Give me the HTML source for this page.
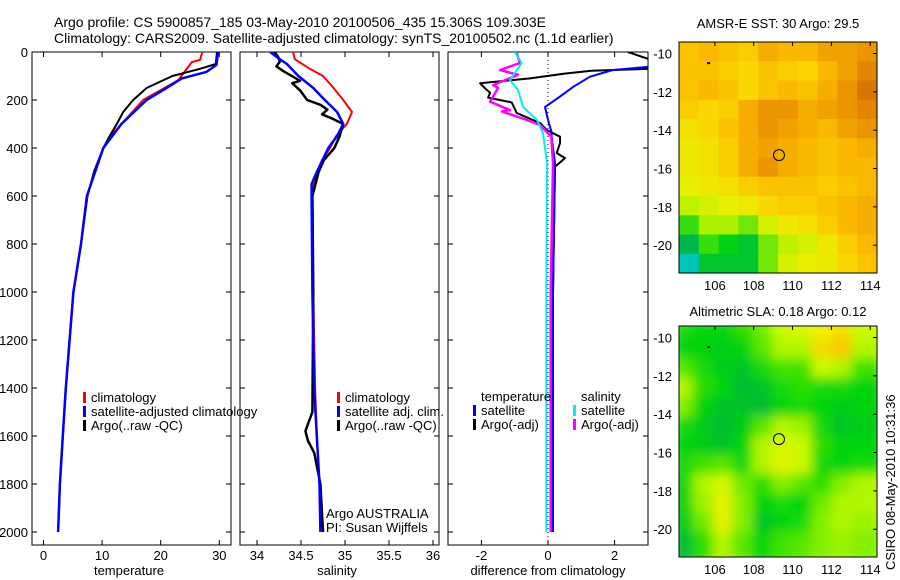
<!DOCTYPE html>
<html><head><meta charset="utf-8">
<style>
html,body{margin:0;padding:0;background:#fff;}
svg{display:block;font-family:"Liberation Sans",sans-serif;}
text{font-size:13px;fill:#000;}
</style></head>
<body>
<svg id="fig" width="900" height="580" viewBox="0 0 900 580" xmlns="http://www.w3.org/2000/svg">
<defs>
<clipPath id="c1"><rect x="32" y="52" width="199" height="493"/></clipPath>
<clipPath id="c2"><rect x="240" y="52" width="199" height="493"/></clipPath>
<clipPath id="c3"><rect x="448" y="52" width="200" height="493"/></clipPath>
<clipPath id="cm1"><rect x="679" y="42" width="198" height="231"/></clipPath>
<clipPath id="cm2"><rect x="679" y="326" width="198" height="231"/></clipPath>
<filter id="blur" x="0" y="0" width="1" height="1"><feGaussianBlur stdDeviation="5.5"/></filter>
</defs>
<text x="54" y="27" style="font-size:14px">Argo profile: CS 5900857_185 03-May-2010 20100506_435 15.306S 109.303E</text>
<text x="54" y="43" style="font-size:14px">Climatology: CARS2009. Satellite-adjusted climatology: synTS_20100502.nc (1.1d earlier)</text>
<g id="g"></g>
<text x="778" y="28" text-anchor="middle">AMSR-E SST: 30 Argo: 29.5</text>
<text x="778" y="316" text-anchor="middle">Altimetric SLA: 0.18 Argo: 0.12</text>
<text transform="translate(895,570) rotate(-90)">CSIRO 08-May-2010 10:31:36</text>
<text x="129" y="575" text-anchor="middle">temperature</text>
<text x="337" y="575" text-anchor="middle">salinity</text>
<text x="548" y="575" text-anchor="middle">difference from climatology</text>
<text x="326" y="518">Argo AUSTRALIA</text>
<text x="326" y="532">PI: Susan Wijffels</text>
</svg>
<script>
// ---------- data ----------
const depthTicks=[0,200,400,600,800,1000,1200,1400,1600,1800,2000];
const tempTicks=[0,10,20,30];
const salTicks=[34,34.5,35,35.5,36];
const diffTicks=[-2,0,2];
const tClimD=[0,33,42,117,200,338,400,600,800,1000,1400,1600,1800,2000];
const tClimV=[27.1,26.7,25.3,23,17,11.9,10.2,7.4,6.4,5.1,3.8,3.3,2.8,2.5];
const tSatD=[0,54,83,110,150,200,300,400,600,800,1000,1400,1600,1800,2000];
const tSatV=[29.8,29.5,27.8,23.6,21,17.6,13.3,10.2,7.4,6.4,5.1,3.8,3.3,2.8,2.5];
const tArgoD=[0,50,70,100,150,200,250,300,350,400,500,600,800,1000,1400,1600,1800,2000];
const tArgoV=[29.6,29.4,26.7,22,17.6,15.3,13.6,12.5,11.3,10.2,8.6,7.5,6.4,5.1,3.8,3.3,2.8,2.5];
const sClimD=[0,30,70,100,150,200,250,300,350,400,450,500,550,600,1000,1400,1600,1800,2000];
const sClimV=[34.41,34.43,34.6,34.75,34.87,34.98,35.08,35.02,34.9,34.83,34.74,34.68,34.64,34.63,34.64,34.66,34.68,34.71,34.72];
const sSatD=[0,20,50,100,150,200,250,300,350,400,500,550,600,1000,1400,1600,1800,2000];
const sSatV=[34.15,34.22,34.34,34.47,34.64,34.77,34.91,34.98,34.91,34.81,34.68,34.62,34.62,34.63,34.65,34.68,34.71,34.72];
const sArgoD=[0,20,40,60,80,120,130,160,200,220,240,260,280,300,350,400,450,500,600,1000,1500,1550,1580,1620,1670,1800,2000];
const sArgoV=[34.2,34.24,34.26,34.22,34.3,34.49,34.4,34.49,34.57,34.72,34.8,34.74,34.87,34.98,34.94,34.88,34.76,34.7,34.63,34.64,34.63,34.58,34.55,34.58,34.65,34.72,34.75];
const dTSatD=[0,61,75,103,145,186,229,283,330,367,463,1000,2000];
const dTSatV=[3.1,3.1,1.95,1.26,0.76,0.36,-0.09,0,0.1,0.12,0.21,0.15,0.15];
const dTArgoD=[0,33,70,78,90,110,130,150,170,190,210,254,296,325,353,380,421,442,478,1000,2000];
const dTArgoV=[2.4,3.1,3.1,1.3,0.5,-0.54,-2.04,-1.9,-1.74,-1.8,-1.09,-0.94,-0.24,-0.04,0.36,0.36,0.26,0.51,0.21,0.15,0.12];
const dSSatD=[0,46,117,158,229,283,338,463,1000,2000];
const dSSatV=[-1.0,-0.79,-1.14,-0.9,-0.75,-0.33,-0.15,-0.03,-0.05,-0.05];
const dSArgoD=[4,46,75,95,138,150,207,242,248,283,304,353,463,1000,2000];
const dSArgoV=[-0.94,-0.84,-1.44,-0.9,-1.65,-1.5,-1.74,-1.14,-1.38,-0.63,-0.24,0.1,0.15,0.08,0.08];
const mapLonTicks=[106,108,110,112,114];
const mapLatTicks=[-10,-12,-14,-16,-18,-20];
const sstGrid=[
[29.8,29.9,29.8,29.7,30.0,29.9,29.9,30.1,30.1,30.2],
[29.8,29.8,29.7,29.6,29.8,29.7,29.6,29.9,30.1,30.3],
[29.8,29.9,29.8,29.6,29.8,29.9,29.8,30.0,30.2,30.4],
[29.7,29.6,29.7,30.0,30.2,30.2,30.0,30.1,30.2,30.3],
[29.5,29.6,29.8,30.0,30.2,30.1,30.0,29.9,30.1,30.2],
[29.4,29.5,29.7,30.0,30.1,30.0,29.9,29.8,29.9,30.0],
[29.4,29.5,29.7,30.0,30.2,30.0,29.9,29.8,29.9,29.9],
[29.3,29.4,29.5,29.7,29.8,29.8,29.8,29.7,29.8,29.9],
[29.1,29.2,29.3,29.4,29.6,29.7,29.7,29.8,29.9,30.0],
[28.8,29.0,29.0,28.9,29.2,29.4,29.5,29.7,29.9,30.0],
[28.5,28.8,28.7,28.6,28.9,29.1,29.2,29.4,29.7,29.9],
[28.2,28.6,28.6,28.6,28.9,29.2,29.3,29.4,29.6,29.8]];
const slaGrid=[
[.35,.3,.3,.4,.55,.75,.8,.9,.95,.75],
[.3,.3,.25,.3,.5,.7,.7,.95,1.0,.7],
[.5,.35,.25,.2,.35,.45,.45,.75,.7,.45],
[.7,.4,.3,.15,.2,.35,.4,.35,.35,.3],
[.6,.3,.2,.2,.15,.3,.35,.3,.25,.3],
[.35,.25,.15,.25,.5,.7,.65,.35,.2,.25],
[.3,.25,.2,.3,.7,.8,.75,.4,.3,.3],
[.35,.45,.5,.35,.7,.85,.75,.35,.3,.35],
[.3,.7,.8,.55,.4,.6,.5,.4,.6,.7],
[.3,.65,.85,.6,.3,.35,.3,.55,.7,.7],
[.25,.55,.85,.6,.2,.3,.35,.6,.7,.65],
[.15,.4,.7,.5,.3,.45,.5,.6,.65,.6]];
const argoLon=109.3, argoLat=-15.3;

// ---------- helpers ----------
const NS='http://www.w3.org/2000/svg';
const G=document.getElementById('g');
function mk(tag,attrs,parent){const e=document.createElementNS(NS,tag);for(const k in attrs)e.setAttribute(k,attrs[k]);(parent||G).appendChild(e);return e;}
const Y=d=>52+d*0.24;
const xT=v=>43.5+v*5.86;
const xS=v=>257+(v-34)*88;
const xD=v=>548+v*33.3;

function panel(x0,x1,xs,ticks,fmt,name){
  const r=mk('rect',{x:x0,y:52,width:x1-x0,height:493,fill:'none',stroke:'#000','stroke-width':1});
  
  
  depthTicks.forEach(d=>{
    mk('line',{x1:x0,x2:x0+5,y1:Y(d),y2:Y(d),stroke:'#000'});
    mk('line',{x1:x1-5,x2:x1,y1:Y(d),y2:Y(d),stroke:'#000'});
  });
  ticks.forEach(v=>{
    const x=xs(v);
    mk('line',{x1:x,x2:x,y1:52,y2:57,stroke:'#000'});
    mk('line',{x1:x,x2:x,y1:540,y2:545,stroke:'#000'});
    const t=mk('text',{x:x,y:560,'text-anchor':'middle'});t.textContent=fmt(v);
    
    
  });
}
function line(ds,vs,xs,color,w,clip,name,dash){
  const p=ds.map((d,i)=>(i?'L':'M')+xs(vs[i]).toFixed(1)+','+Y(d).toFixed(1)).join('');
  const a={d:p,fill:'none',stroke:color,'stroke-width':w,'clip-path':'url(#'+clip+')','stroke-linejoin':'round'};
  if(dash)a['stroke-dasharray']=dash;
  const e=mk('path',a);
  
  
}
function legend(x,y,color,label,name){
  mk('rect',{x:x-1,y:y-6,width:3,height:11,fill:color});
  const t=mk('text',{x:x+7,y:y+4});t.textContent=label;
  
  
}

depthTicks.forEach(d=>{const t=mk('text',{x:28,y:Y(d)+5,'text-anchor':'end'});t.textContent=d;
  
  });

panel(32,231,xT,tempTicks,v=>v,'temperature-panel');
line(tClimD,tClimV,xT,'#f00',2,'c1','temp-climatology-line');
line(tArgoD,tArgoV,xT,'#000',2,'c1','temp-argo-line');
line(tSatD,tSatV,xT,'#00f',2.5,'c1','temp-satellite-line');
legend(84,398,'#f00','climatology','legend-climatology');
legend(84,412,'#00f','satellite-adjusted climatology','legend-satellite-adjusted');
legend(84,426,'#000','Argo(..raw -QC)','legend-argo');

panel(240,439,xS,salTicks,v=>v,'salinity-panel');
line(sClimD,sClimV,xS,'#f00',2,'c2','sal-climatology-line');
line(sArgoD,sArgoV,xS,'#000',2.5,'c2','sal-argo-line');
line(sSatD,sSatV,xS,'#00f',2.5,'c2','sal-satellite-line');
legend(338,398,'#f00','climatology','legend-sal-climatology');
legend(338,412,'#00f','satellite adj. clim.','legend-sal-satellite');
legend(338,426,'#000','Argo(..raw -QC)','legend-sal-argo');

panel(448,648,xD,diffTicks,v=>v,'difference-panel');
mk('line',{x1:xD(0),x2:xD(0),y1:52,y2:545,stroke:'#000','stroke-dasharray':'1,3','clip-path':'url(#c3)'});
line(dTArgoD,dTArgoV,xD,'#000',2,'c3','diff-temp-argo-line');
line(dTSatD,dTSatV,xD,'#00f',2,'c3','diff-temp-satellite-line');
line(dSArgoD,dSArgoV,xD,'#f0f',2.5,'c3','diff-sal-argo-line');
line(dSSatD,dSSatV,xD,'#0ee',2,'c3','diff-sal-satellite-line');
{const t=mk('text',{x:481,y:401});t.textContent='temperature';
 
 }
{const t=mk('text',{x:581,y:401});t.textContent='salinity';
 
 }
legend(474,411,'#00f','satellite','legend-diff-temp-satellite');
legend(474,425,'#000','Argo(-adj)','legend-diff-temp-argo');
legend(574,411,'#0ee','satellite','legend-diff-sal-satellite');
legend(574,425,'#f0f','Argo(-adj)','legend-diff-sal-argo');

function cs(stops,v){
  if(v<=stops[0][0])return 'rgb('+stops[0][1].join(',')+')';
  for(let i=1;i<stops.length;i++){if(v<=stops[i][0]){const a=stops[i-1],b=stops[i],f=(v-a[0])/(b[0]-a[0]);
    return 'rgb('+a[1].map((c,k)=>Math.round(c+(b[1][k]-c)*f)).join(',')+')';}}
  return 'rgb('+stops[stops.length-1][1].join(',')+')';
}
const sstStops=[[28.1,[0,210,220]],[28.4,[0,170,100]],[28.7,[0,210,20]],[29.0,[170,240,0]],[29.3,[230,240,0]],[29.6,[250,215,0]],[29.9,[250,185,0]],[30.2,[235,150,0]],[30.5,[210,100,0]]];
const slaStops=[[0,[0,165,95]],[0.3,[0,212,10]],[0.55,[110,235,0]],[0.75,[200,250,0]],[0.9,[240,240,0]],[1.0,[250,200,0]]];
function map(top,grid,stops,clip,name,blur){
  const x0=679,w=198,h=231,lon0=104.15,lon1=114.35,lat0=-9.4,lat1=-21.45;
  const lx=v=>x0+(v-lon0)/(lon1-lon0)*w, ly=v=>top+(v-lat0)/(lat1-lat0)*h;
  const g=mk('g',{'clip-path':'url(#'+clip+')'});
  const gi=mk('g',blur?{filter:'url(#blur)'}:{},g);
  const nr=grid.length,nc=grid[0].length;
  grid.forEach((row,i)=>row.forEach((v,j)=>{
    const c=mk('rect',{x:x0+j*w/nc-(blur?6:0),y:top+i*h/nr-(blur?6:0),width:w/nc+0.6+(blur?12:0),height:h/nr+0.6+(blur?12:0),fill:cs(stops,v)},gi);
    
    
  }));
  const f=mk('rect',{x:x0,y:top,width:w,height:h,fill:'none',stroke:'#000'});
  
  
  mapLonTicks.forEach(v=>{const x=lx(v);mk('line',{x1:x,x2:x,y1:top,y2:top+4,stroke:'#000'});
    const t=mk('text',{x:x,y:top+h+17,'text-anchor':'middle'});t.textContent=v;
    
    });
  mapLatTicks.forEach(v=>{const y=ly(v);mk('line',{x1:x0+w-4,x2:x0+w,y1:y,y2:y,stroke:'#000'});
    const t=mk('text',{x:672,y:y+5,'text-anchor':'end'});t.textContent=v;
    
    });
  const c=mk('circle',{cx:lx(argoLon),cy:ly(argoLat),r:5.5,fill:'none',stroke:'#000'});
  
  
  mk('rect',{x:lx(105.6),y:ly(-10.45),width:3,height:2,fill:'#000'});
}
map(42,sstGrid,sstStops,'cm1','sst-map',false);
map(326,slaGrid,slaStops,'cm2','sla-map',true);
</script>
</body></html>
